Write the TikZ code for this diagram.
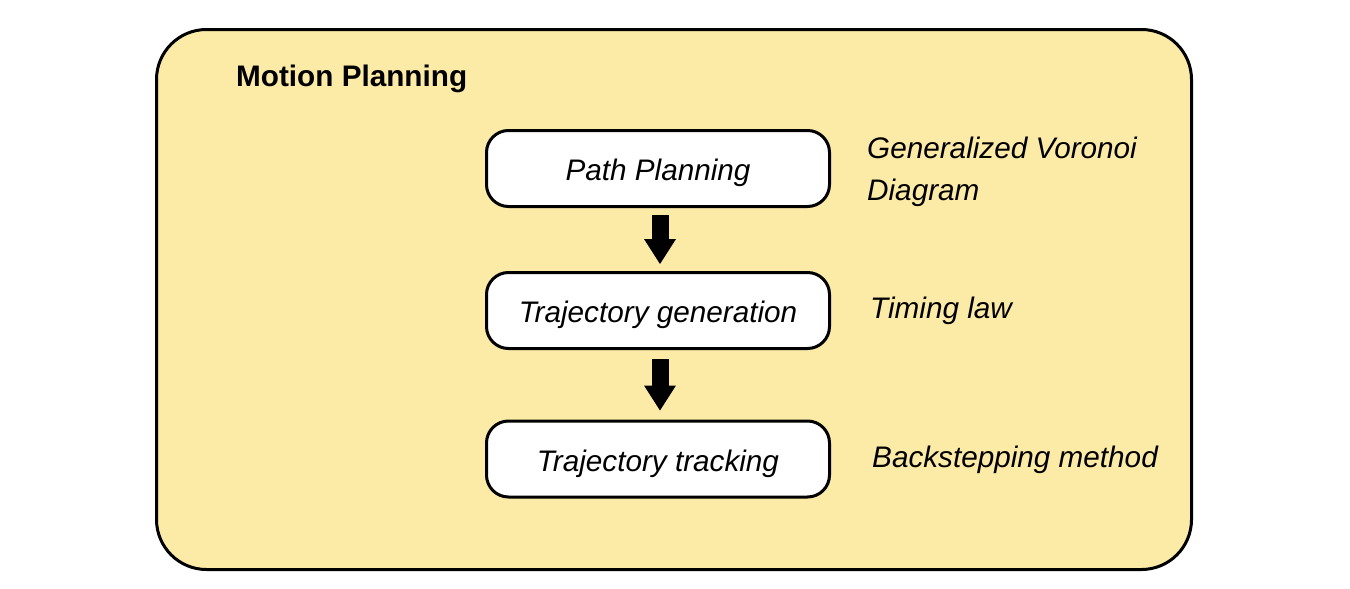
\documentclass[tikz,border=0pt]{standalone}
\usepackage{fontspec}
\setmainfont{Liberation Sans}
\usetikzlibrary{arrows.meta}
\definecolor{panel}{RGB}{252,234,167}
\begin{document}
\begin{tikzpicture}[x=1pt,y=-1pt,
  panelbox/.style={draw, line width=3pt, fill=panel, rounded corners=50pt, minimum width=1035pt, minimum height=540pt, inner sep=0pt},
  stepbox/.style={draw, line width=3pt, fill=white, rounded corners=22pt, minimum width=343pt, minimum height=76pt, inner sep=0pt,
    font=\fontsize{29.7}{36}\selectfont\itshape, text height=24pt, text depth=0pt},
  titletext/.style={anchor=base west, inner sep=0pt, font=\fontsize{29.7}{36}\selectfont\bfseries},
  note/.style={anchor=base west, inner sep=0pt, align=left, font=\fontsize{29.7}{42}\selectfont\itshape},
  blockarrow/.style={line width=17pt, -{Triangle[width=32pt,length=25pt,line width=0pt]}}
]
\useasboundingbox (0,0) rectangle (1350,589);
\node[panelbox] (panel) at (674,299.5) {};
\node[titletext] (title) at (236,86) {Motion Planning};
\node[stepbox] (p) at (658,168.5) {Path Planning};
\node[stepbox] (g) at (658,310.5) {Trajectory generation};
\node[stepbox] (t) at (658,459) {Trajectory tracking};
\draw[blockarrow] ([xshift=2pt,yshift=-7pt]p.south) -- ([xshift=2pt,yshift=7pt]g.north);
\draw[blockarrow] ([xshift=2pt,yshift=-9pt]g.south) -- ([xshift=2pt,yshift=9pt]t.north);
\node[note] (gvd) at (867,200) {Generalized Voronoi\\Diagram};
\node[note] (tl) at (870,318) {Timing law};
\node[note] (bs) at (872,467) {Backstepping method};
\end{tikzpicture}
\end{document}
